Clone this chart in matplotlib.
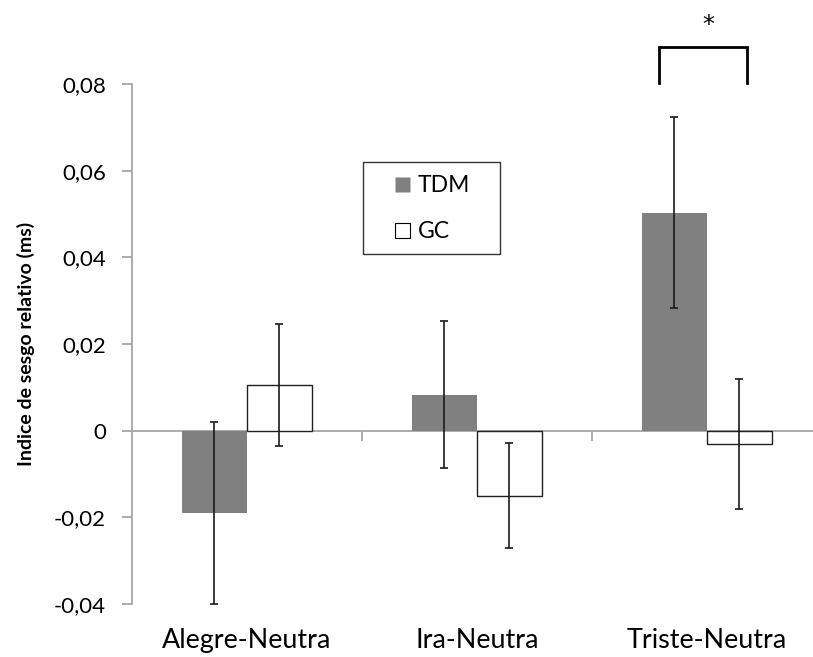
import matplotlib
matplotlib.use('Agg')
import matplotlib.pyplot as plt
import numpy as np
from matplotlib.lines import Line2D

categories = ['Alegre-Neutra', 'Ira-Neutra', 'Triste-Neutra']
series_names = ['TDM', 'GC']
tdm_values = [-0.0191, 0.0083, 0.0503]
tdm_errors = [0.0210, 0.0169, 0.0220]
gc_values = [0.0105, -0.0150, -0.0030]
gc_errors = [0.0141, 0.0121, 0.0150]
yticks = [-0.04, -0.02, 0, 0.02, 0.04, 0.06, 0.08]
ytick_labels = ['-0,04', '-0,02', '0', '0,02', '0,04', '0,06', '0,08']
ylabel = 'Indice de sesgo relativo (ms)'
sig_category = 2
sig_label = '*'

plt.rcParams['font.family'] = ['Lato', 'DejaVu Sans']
fig = plt.figure(figsize=(8.13, 6.57), dpi=100)
ax = fig.add_axes([132/813, 53/657, 681/813, 520/657])

x = np.arange(len(categories))
w = 0.2826
grey_axis = '#a6a6a6'
ax.bar(x - w/2, tdm_values, w, color='#808080', edgecolor='none', zorder=2)
ax.bar(x + w/2, gc_values, w, color='white', edgecolor='#202020', linewidth=1.0, zorder=2)
ax.errorbar(x - w/2, tdm_values, yerr=tdm_errors, fmt='none', ecolor='#1a1a1a',
            elinewidth=1.2, capsize=2.6, capthick=1.2, zorder=3)
ax.errorbar(x + w/2, gc_values, yerr=gc_errors, fmt='none', ecolor='#1a1a1a',
            elinewidth=1.2, capsize=2.6, capthick=1.2, zorder=3)

ax.axhline(0, color=grey_axis, lw=1.3, zorder=1)
ax.vlines(x[:-1] + 0.5, -0.0024, 0, color=grey_axis, lw=1.3, zorder=1)

ax.set_xlim(-0.5, 2.463)
ax.set_ylim(-0.04, 0.08)
for s in ['top', 'right', 'bottom']:
    ax.spines[s].set_visible(False)
ax.spines['left'].set_color(grey_axis)
ax.spines['left'].set_linewidth(1.3)

ax.set_yticks(yticks, ytick_labels)
ax.tick_params(axis='y', length=7.2, width=1.3, color=grey_axis, pad=11.5, labelsize=16)
ax.set_xticks(x, categories)
ax.tick_params(axis='x', length=0, pad=17, labelsize=19.4)
ax.set_ylabel(ylabel, fontsize=14, fontweight='bold')
ax.yaxis.set_label_coords(-0.143, 0.5)

# significance bracket
xs = x[sig_category]
ax.plot([xs - 0.207, xs - 0.207, xs + 0.176, xs + 0.176], [0.0802, 0.0886, 0.0886, 0.0802],
        color='black', lw=2.0, clip_on=False, solid_joinstyle='miter')
ax.text(xs + 0.005, 0.0937, sig_label, ha='center', va='center', fontsize=17,
        family=['DejaVu Sans'])

handles = [
    Line2D([], [], marker='s', ls='none', markersize=10.8, markerfacecolor='#808080', markeredgecolor='none'),
    Line2D([], [], marker='s', ls='none', markersize=10.8, markerfacecolor='white',
           markeredgecolor='black', markeredgewidth=0.8),
]
leg = ax.legend(handles, series_names, loc='upper left',
                bbox_to_anchor=(363/813, 1 - 253/657, (500 - 363)/813, (253 - 162)/657),
                bbox_transform=fig.transFigure, mode='expand', frameon=True, fancybox=False,
                edgecolor='black', fontsize=16.5, handlelength=2.3, handletextpad=-0.45,
                labelspacing=1.09, borderpad=0.55, borderaxespad=0, numpoints=1)
leg.get_frame().set_linewidth(1.0)

fig.savefig('out.png', dpi=100, facecolor='white')
